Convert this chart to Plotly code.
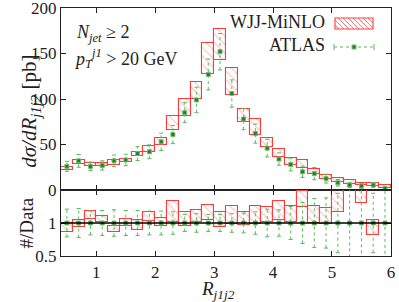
import plotly.graph_objects as go

# ---------------- data ----------------
bin_centers = [0.5, 0.7, 0.9, 1.1, 1.3, 1.5, 1.7, 1.9, 2.1, 2.3, 2.5, 2.7, 2.9, 3.1,
               3.3, 3.5, 3.7, 3.9, 4.1, 4.3, 4.5, 4.7, 4.9, 5.1, 5.3, 5.5, 5.7, 5.9]
bin_width = 0.2

atlas_val = [26, 32, 26, 27, 32, 33, 40, 42, 53, 61, 85, 99, 127, 152,
             106, 78, 62, 46, 34, 28, 20, 18, 12.5, 8, 5.5, 4.5, 5.5, 1.8]
atlas_err = [5.5, 7, 4.7, 5.1, 6.4, 6.3, 7.6, 7.6, 9.5, 10, 11, 14, 17, 20,
             15, 11.7, 10.5, 9.7, 6.8, 7, 6.2, 6.7, 4.8, 3.6, 2.9, 2.5, 2.5, 1.2]

mc_lo = [22.5, 29, 26.5, 26.5, 28, 30.5, 37, 41.5, 50, 65.5, 81.5, 100, 127.5, 142.5,
         104, 74.5, 60, 47, 36, 27.5, 24, 17.5, 12.3, 9.2, 7, 5, 4, 2.2]
mc_hi = [25.5, 33, 29.5, 29.5, 33.5, 34.5, 42, 48.5, 57, 81, 100, 119, 162, 176.5,
         134, 89.5, 78.5, 57.5, 45, 35.5, 33.3, 23, 16.5, 13.5, 10.5, 8.2, 7.3, 5.8]

ratio_lo = [0.86, 0.94, 1.06, 1.01, 0.86, 0.96, 0.90, 1.03, 0.95, 1.01, 0.95, 1.01, 1.05, 0.94,
            0.98, 0.97, 0.98, 1.01, 1.04, 1.01, 1.24, 1.00, 0.98, 1.16, 1.60, 1.31, 0.82, 1.60]
ratio_hi = [1.00, 1.04, 1.18, 1.11, 0.96, 1.06, 1.04, 1.16, 1.08, 1.33, 1.17, 1.20, 1.27, 1.16,
            1.26, 1.16, 1.26, 1.25, 1.33, 1.26, 1.49, 1.26, 1.23, 1.70, 2.00, 1.60, 1.04, 2.50]
ratio_err = [0.21, 0.22, 0.18, 0.19, 0.20, 0.19, 0.19, 0.18, 0.18, 0.17, 0.13, 0.14, 0.13, 0.13,
             0.14, 0.15, 0.17, 0.21, 0.20, 0.25, 0.31, 0.37, 0.38, 0.45, 0.52, 0.55, 0.45, 0.65]
ratio_one = [1.0] * len(bin_centers)

x_ticks = [1, 2, 3, 4, 5, 6]
main_yticks = [0, 50, 100, 150, 200]
ratio_yticks = [0.5, 1]

# ---------------- style ----------------
FONT = "Liberation Serif"
RED = "#ff3a3a"
HATCH = "rgba(255,70,70,0.75)"
GREEN_ERR = "#5cb85c"
GREEN_PT = "#2a7a2a"
W, H = 399, 302
L, R, T, B = 61, 8, 8, 46
PW, PH = W - L - R, H - T - B
split = 66 / PH  # ratio panel height fraction


def px2paper(px, py):
    return (px - L) / PW, (H - B - py) / PH


def err_paths(xc, yv, ye, cap):
    xs, ys, cx, cy = [], [], [], []
    for c, v, e in zip(xc, yv, ye):
        xs += [c, c, None]
        ys += [v - e, v + e, None]
        for yy in (v - e, v + e):
            cx += [c - cap, c + cap, None]
            cy += [yy, yy, None]
    return xs, ys, cx, cy


fig = go.Figure()

pattern = dict(shape="\\", fgcolor=HATCH, bgcolor="rgba(0,0,0,0)", size=6, solidity=0.18)

# MC boxes main
fig.add_trace(go.Bar(
    x=bin_centers, base=mc_lo, y=[h - l for h, l in zip(mc_hi, mc_lo)], width=bin_width,
    marker=dict(color=RED, line=dict(color=RED, width=1.1), pattern=pattern),
    xaxis="x", yaxis="y", showlegend=False))
# MC boxes ratio
fig.add_trace(go.Bar(
    x=bin_centers, base=ratio_lo, y=[h - l for h, l in zip(ratio_hi, ratio_lo)], width=bin_width,
    marker=dict(color=RED, line=dict(color=RED, width=1.1), pattern=pattern),
    xaxis="x2", yaxis="y2", showlegend=False))

# ATLAS error bars main
ex, ey, cx, cy = err_paths(bin_centers, atlas_val, atlas_err, 0.035)
fig.add_trace(go.Scatter(x=ex, y=ey, mode="lines", line=dict(color=GREEN_ERR, width=1, dash="dot"),
                         xaxis="x", yaxis="y", showlegend=False, hoverinfo="skip"))
fig.add_trace(go.Scatter(x=cx, y=cy, mode="lines", line=dict(color=GREEN_ERR, width=1),
                         xaxis="x", yaxis="y", showlegend=False, hoverinfo="skip"))
fig.add_trace(go.Scatter(x=bin_centers, y=atlas_val, mode="markers",
                         marker=dict(symbol="square", size=4, color=GREEN_PT,
                                     line=dict(color="#6fbf6f", width=1)),
                         xaxis="x", yaxis="y", showlegend=False))

# ratio panel line at 1
fig.add_shape(type="line", xref="x2 domain", yref="y2", x0=0, x1=1, y0=1, y1=1,
              line=dict(color="black", width=1.3))

# ATLAS error bars ratio
ex, ey, cx, cy = err_paths(bin_centers, ratio_one, ratio_err, 0.035)
fig.add_trace(go.Scatter(x=ex, y=ey, mode="lines", line=dict(color=GREEN_ERR, width=1, dash="dot"),
                         xaxis="x2", yaxis="y2", showlegend=False, hoverinfo="skip"))
fig.add_trace(go.Scatter(x=cx, y=cy, mode="lines", line=dict(color=GREEN_ERR, width=1),
                         xaxis="x2", yaxis="y2", showlegend=False, hoverinfo="skip"))
fig.add_trace(go.Scatter(x=bin_centers, y=ratio_one, mode="markers",
                         marker=dict(symbol="square", size=4, color=GREEN_PT,
                                     line=dict(color="#6fbf6f", width=1)),
                         xaxis="x2", yaxis="y2", showlegend=False))

axis_common = dict(showline=True, linecolor="#222", linewidth=1.3, mirror="ticks",
                   ticks="inside", ticklen=5, tickcolor="#222", showgrid=False, zeroline=False,
                   ticklabeloverflow="allow",
                   tickfont=dict(family=FONT, size=17, color="#222"))

fig.update_layout(
    width=W, height=H,
    margin=dict(l=L, r=R, t=T, b=B, autoexpand=False),
    plot_bgcolor="white", paper_bgcolor="white",
    barmode="overlay", bargap=0,
    font=dict(family=FONT, size=17, color="#222"),
    xaxis=dict(domain=[0, 1], range=[0.4, 6.002], tickvals=x_ticks, showticklabels=False,
               anchor="y", **axis_common),
    yaxis=dict(domain=[split, 1], range=[0, 200.05], tickvals=main_yticks, anchor="x",
               **axis_common),
    xaxis2=dict(domain=[0, 1], range=[0.4, 6.002], tickvals=x_ticks, anchor="y2", matches="x",
                **axis_common),
    yaxis2=dict(domain=[0, split], range=[0.5, 1.5], tickvals=ratio_yticks, anchor="x2",
                **axis_common),
)

# ---------------- text ----------------
TXT = 18
ann = []
ann.append(dict(text="<i>dσ/dR</i><sub><i>j1j2</i></sub> [pb]", textangle=-90,
                xref="paper", x=0, xshift=-46, yref="y domain", y=0.43,
                showarrow=False, font=dict(family=FONT, size=21)))
ann.append(dict(text="#/Data", textangle=-90, xref="paper", x=0, xshift=-48,
                yref="y2 domain", y=0.5, showarrow=False, font=dict(family=FONT, size=19)))
ann.append(dict(text="<i>R</i><sub><i>j1j2</i></sub>", xref="paper", x=px2paper(218, 0)[0],
                yref="paper", y=0, yshift=-34, yanchor="middle", showarrow=False,
                font=dict(family=FONT, size=19)))
ann.append(dict(text="<i>N</i><sub><i>jet</i></sub> ≥ 2", xref="paper", x=px2paper(74, 0)[0],
                xanchor="left", yref="paper", y=px2paper(0, 33)[1], yanchor="middle",
                showarrow=False, font=dict(family=FONT, size=TXT)))
ann.append(dict(text="<i>p</i><sub><i>T</i></sub><sup><i>j1</i></sup> > 20 GeV", xref="paper",
                x=px2paper(72, 0)[0], xanchor="left", yref="paper", y=px2paper(0, 58)[1],
                yanchor="middle", showarrow=False, font=dict(family=FONT, size=TXT)))
ann.append(dict(text="WJJ-MiNLO", xref="paper", x=px2paper(327, 0)[0], xanchor="right",
                yref="paper", y=px2paper(0, 22)[1], yanchor="middle", showarrow=False,
                font=dict(family=FONT, size=TXT)))
ann.append(dict(text="ATLAS", xref="paper", x=px2paper(327, 0)[0], xanchor="right",
                yref="paper", y=px2paper(0, 45)[1], yanchor="middle", showarrow=False,
                font=dict(family=FONT, size=TXT)))
fig.update_layout(annotations=ann)

# legend samples
rx0, rx1, ry0, ry1 = 335, 373, 18, 29
a0, b0 = px2paper(rx0, ry1)
a1, b1 = px2paper(rx1, ry0)
fig.add_shape(type="rect", xref="paper", yref="paper", x0=a0, x1=a1, y0=b0, y1=b1,
              line=dict(color=RED, width=1.1))
k = ry0 - rx1
while k <= ry1 - rx0:
    xa = max(rx0, ry0 - k)
    xb = min(rx1, ry1 - k)
    if xb > xa:
        p0 = px2paper(xa, xa + k)
        p1 = px2paper(xb, xb + k)
        fig.add_shape(type="line", xref="paper", yref="paper", x0=p0[0], y0=p0[1],
                      x1=p1[0], y1=p1[1], line=dict(color=HATCH, width=1))
    k += 5

lx0, lx1, ly = 334, 374, 47
q0 = px2paper(lx0, ly)
q1 = px2paper(lx1, ly)
fig.add_shape(type="line", xref="paper", yref="paper", x0=q0[0], x1=q1[0], y0=q0[1], y1=q1[1],
              line=dict(color=GREEN_ERR, width=1, dash="dot"))
for lx in (lx0, lx1):
    c0 = px2paper(lx, ly - 3)
    c1 = px2paper(lx, ly + 3)
    fig.add_shape(type="line", xref="paper", yref="paper", x0=c0[0], x1=c1[0], y0=c0[1], y1=c1[1],
                  line=dict(color=GREEN_ERR, width=1))
m0 = px2paper(352, ly - 2)
m1 = px2paper(356, ly + 2)
fig.add_shape(type="rect", xref="paper", yref="paper", x0=m0[0], x1=m1[0], y0=m1[1], y1=m0[1],
              fillcolor=GREEN_PT, line=dict(color="#6fbf6f", width=1))

fig.write_html("out.html", config={"displayModeBar": False},
               post_script="document.body.style.margin='0';document.body.style.overflow='hidden';")
